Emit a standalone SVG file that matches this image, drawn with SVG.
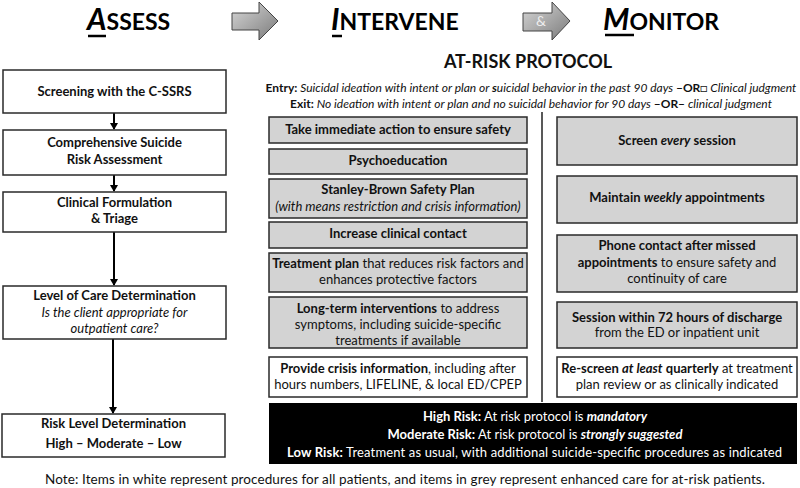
<svg xmlns="http://www.w3.org/2000/svg" width="800" height="488" viewBox="0 0 800 488">
<style>
text{font-family:Lato,"Liberation Sans",sans-serif;font-size:13px;fill:#111;text-anchor:middle}
.b{font-weight:bold}
.i{font-style:italic}
.box{stroke:#2a2a2a;stroke-width:1.5}
.w{fill:#fff}
.g{fill:#d3d3d3}
.hd{font-weight:bold;font-size:23px;text-anchor:start;fill:#000}
.hl{font-weight:bold;font-style:italic;font-size:30px}
.con{stroke:#000;stroke-width:2;fill:none}
.wt{fill:#fff}
</style>
<defs>
<marker id="ah" markerWidth="8" markerHeight="8" refX="6" refY="4" orient="auto" markerUnits="userSpaceOnUse">
<path d="M0,0 L7,4 L0,8 Z" fill="#000"/>
</marker>
<linearGradient id="ag" x1="0" y1="0" x2="1" y2="1">
<stop offset="0" stop-color="#d8d8d8"/>
<stop offset="1" stop-color="#7a7a7a"/>
</linearGradient>
</defs>

<g id="header">
<text class="hd" x="87" y="30"><tspan class="hl">A</tspan>SSESS</text>
<line x1="88" y1="36" x2="106" y2="36" stroke="#000" stroke-width="2.5"/>
<text class="hd" x="331" y="30"><tspan class="hl">I</tspan>NTERVENE</text>
<line x1="332" y1="36" x2="342" y2="36" stroke="#000" stroke-width="2.5"/>
<text class="hd" x="603" y="30"><tspan class="hl">M</tspan>ONITOR</text>
<line x1="605" y1="35" x2="634" y2="35" stroke="#000" stroke-width="2.5"/>
</g>

<g id="arrow1">
<path d="M232,13 L259,13 L259,2 L278,21 L259,40 L259,30 L232,30 Z" fill="url(#ag)" stroke="#444" stroke-width="1"/>
</g>
<g id="arrow2">
<path d="M523,13 L552,13 L552,2 L570,21 L552,40 L552,31 L523,31 Z" fill="url(#ag)" stroke="#444" stroke-width="1"/>
<text x="541" y="26" style="fill:#eee;font-size:14px">&amp;</text>
</g>

<g id="protocol-title">
<text class="b" x="528" y="68" style="font-size:18px">AT-RISK PROTOCOL</text>
<text x="531" y="92" style="font-size:12px"><tspan class="b">Entry:</tspan><tspan class="i"> Suicidal ideation with intent or plan or </tspan><tspan class="i b">s</tspan><tspan class="i">uicidal behavior in the past 90 days </tspan><tspan class="b">–OR</tspan><tspan>□</tspan><tspan class="i"> Clinical judgment</tspan></text>
<text x="531" y="108" style="font-size:12px"><tspan class="b">Exit:</tspan><tspan class="i"> No ideation with intent or plan and no suicidal behavior for 90 days </tspan><tspan class="b">–OR–</tspan><tspan class="i">  clinical judgment</tspan></text>
</g>

<g id="connectors">
<line class="con" x1="114" y1="113" x2="114" y2="129" marker-end="url(#ah)"/>
<line class="con" x1="114" y1="175" x2="114" y2="191" marker-end="url(#ah)"/>
<line class="con" x1="114" y1="232" x2="114" y2="285" marker-end="url(#ah)"/>
<line class="con" x1="113" y1="339" x2="113" y2="413" marker-end="url(#ah)"/>
<line x1="542" y1="112" x2="542" y2="402" stroke="#222" stroke-width="1.5"/>
</g>

<g id="screening">
<rect class="box w" x="3" y="70" width="223" height="43"/>
<text class="b" x="114.5" y="96">Screening with the C-SSRS</text>
</g>
<g id="comprehensive">
<rect class="box w" x="3" y="130" width="223" height="45"/>
<text class="b" x="114.5" y="147">Comprehensive Suicide</text>
<text class="b" x="114.5" y="164">Risk Assessment</text>
</g>
<g id="formulation">
<rect class="box w" x="3" y="192" width="223" height="40"/>
<text class="b" x="114.5" y="207">Clinical Formulation</text>
<text class="b" x="114.5" y="223">&amp; Triage</text>
</g>
<g id="level-of-care">
<rect class="box w" x="3" y="286" width="223" height="53"/>
<text class="b" x="114.5" y="300">Level of Care Determination</text>
<text class="i" x="114.5" y="317">Is the client appropriate for</text>
<text class="i" x="114.5" y="333">outpatient care?</text>
</g>
<g id="risk-level">
<rect class="box w" x="2" y="414" width="223" height="43"/>
<text class="b" x="113.5" y="428">Risk Level Determination</text>
<text class="b" x="113.5" y="448">High – Moderate – Low</text>
</g>

<g id="immediate-action">
<rect class="box g" x="269" y="117" width="258" height="26"/>
<text class="b" x="398" y="134">Take immediate action to ensure safety</text>
</g>
<g id="psychoeducation">
<rect class="box g" x="269" y="149" width="258" height="25"/>
<text class="b" x="398" y="165">Psychoeducation</text>
</g>
<g id="safety-plan">
<rect class="box g" x="269" y="179" width="258" height="39"/>
<text class="b" x="398" y="194">Stanley-Brown Safety Plan</text>
<text class="i" x="398" y="211">(with means restriction and crisis information)</text>
</g>
<g id="clinical-contact">
<rect class="box g" x="269" y="222" width="258" height="26"/>
<text class="b" x="398" y="238">Increase clinical contact</text>
</g>
<g id="treatment-plan">
<rect class="box g" x="269" y="253" width="258" height="39"/>
<text x="398" y="268"><tspan class="b">Treatment plan</tspan> that reduces risk factors and</text>
<text x="398" y="284">enhances protective factors</text>
</g>
<g id="long-term">
<rect class="box g" x="269" y="297" width="258" height="51"/>
<text x="398" y="313"><tspan class="b">Long-term interventions</tspan> to address</text>
<text x="398" y="329">symptoms, including suicide-specific</text>
<text x="398" y="345">treatments if available</text>
</g>
<g id="crisis-info">
<rect class="box w" x="269" y="357" width="258" height="40"/>
<text x="398" y="373"><tspan class="b">Provide crisis information</tspan>, including after</text>
<text x="398" y="389">hours numbers, LIFELINE, &amp; local ED/CPEP</text>
</g>

<g id="screen-every">
<rect class="box g" x="557" y="117" width="240" height="48"/>
<text class="b" x="677" y="145">Screen <tspan class="i">every</tspan> session</text>
</g>
<g id="weekly">
<rect class="box g" x="557" y="176" width="240" height="47"/>
<text class="b" x="677" y="202">Maintain <tspan class="i">weekly</tspan> appointments</text>
</g>
<g id="phone-contact">
<rect class="box g" x="557" y="235" width="240" height="57"/>
<text class="b" x="677" y="250">Phone contact after missed</text>
<text x="677" y="267"><tspan class="b">appointments</tspan> to ensure safety and</text>
<text x="677" y="283">continuity of care</text>
</g>
<g id="session-72">
<rect class="box g" x="557" y="302" width="240" height="46"/>
<text class="b" x="677" y="322">Session within 72 hours of discharge</text>
<text x="677" y="337">from the ED or inpatient unit</text>
</g>
<g id="rescreen">
<rect class="box w" x="557" y="357" width="240" height="40"/>
<text x="677" y="373"><tspan class="b">Re-screen <tspan class="i">at least</tspan> quarterly</tspan> at treatment</text>
<text x="677" y="389">plan review or as clinically indicated</text>
</g>

<g id="risk-box">
<rect x="269" y="403" width="528" height="61" fill="#000"/>
<text class="wt" x="535" y="421"><tspan class="b wt">High Risk:</tspan> At risk protocol is <tspan class="b i wt">mandatory</tspan></text>
<text class="wt" x="535" y="439"><tspan class="b wt">Moderate Risk:</tspan> At risk protocol is <tspan class="b i wt">strongly suggested</tspan></text>
<text class="wt" x="287" y="457" style="text-anchor:start" textLength="495"><tspan class="b wt">Low Risk:</tspan> Treatment as usual, with additional suicide-specific procedures as indicated</text>
</g>

<g id="note">
<text x="45" y="484" style="font-size:13.5px;text-anchor:start" textLength="720">Note: Items in white represent procedures for all patients, and items in grey represent enhanced care for at-risk patients.</text>
</g>
</svg>
